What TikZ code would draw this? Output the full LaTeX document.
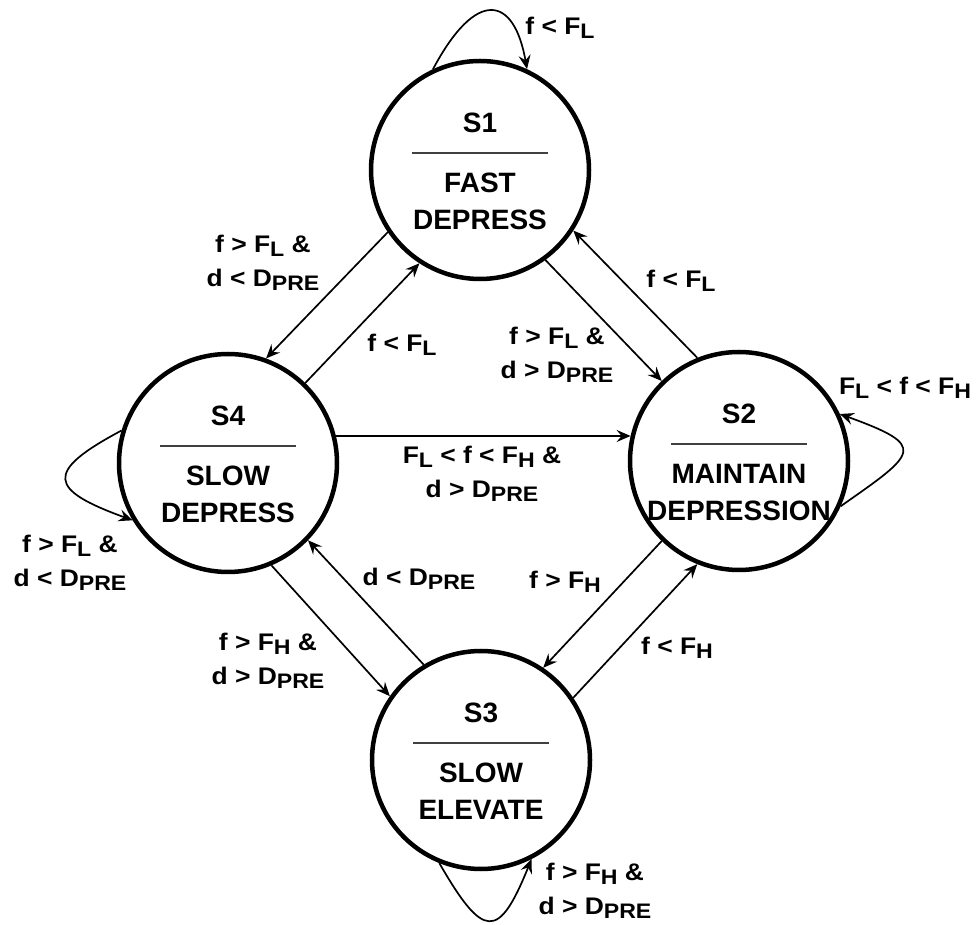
\documentclass[tikz,border=0pt]{standalone}
\usepackage{fontspec}
\setmainfont{Liberation Sans}
\newfontfamily\lblfont[FakeStretch=1.1]{Liberation Sans}
\usetikzlibrary{arrows.meta,calc}

% lowered, slightly smaller index text used in the transition conditions
\newcommand\sbs[1]{\raisebox{-4pt}{\fontsize{21}{21}\selectfont #1}}

% a state: circle, state number, divider, two-line state name
\newcommand\statebox[5]{%
  \node[stcircle] (#1) at (#2) {};
  \node[sttxt] (#1-id) at ($(#1)+(0,47)$) {#3};
  \draw[strule] ($(#1)+(-68,17)$) -- ($(#1)+(68,17)$);
  \node[sttxt] (#1-a) at ($(#1)+(0,-13)$) {#4};
  \node[sttxt] (#1-b) at ($(#1)+(0,-50)$) {#5};
}

\tikzset{
  stcircle/.style={circle, draw, line width=4.5pt, minimum size=218pt, inner sep=0pt},
  sttxt/.style={font=\bfseries\fontsize{28}{28}\selectfont, inner sep=0pt},
  strule/.style={line width=1.3pt, black!75},
  lbl/.style={font=\lblfont\bfseries\fontsize{24}{34}\selectfont, align=center, inner sep=0pt},
  trans/.style={line width=1.7pt, -{Stealth[length=14pt,width=12pt,inset=5pt]}},
}

\begin{document}
\begin{tikzpicture}[x=1pt,y=1pt]
\useasboundingbox (0,0) rectangle (977,924);

\statebox{s1}{480,754}{S1}{FAST}{DEPRESS}
\statebox{s4}{228,461}{S4}{SLOW}{DEPRESS}
\statebox{s2}{739,463}{S2}{MAINTAIN}{DEPRESSION}
\statebox{s3}{481,164}{S3}{SLOW}{ELEVATE}

% transitions between states
\draw[trans] (s1.214) -- (s4.70);
\draw[trans] (s4.46) -- (s1.237);
\draw[trans] (s1.306) -- (s2.134);
\draw[trans] (s2.112) -- (s1.327);
\draw[trans] (s2.226) -- (s3.56);
\draw[trans] (s3.34) -- (s2.248);
\draw[trans] (s4.293) -- (s3.145);
\draw[trans] (s3.121) -- (s4.316);
\draw[trans] (s4.14) -- (s2.167);

% self loops
\draw[trans] (s1.115) .. controls +(62:92) and +(100:75) .. (s1.65);
\draw[trans] (s4.163) .. controls +(208:89) and +(160:89) .. (s4.211);
\draw[trans] (s2.336) .. controls +(35:94) and +(-20:94) .. (s2.25);
\draw[trans] (s3.248) .. controls +(300:88) and +(248:88) .. (s3.297);

% conditions
\node[lbl] (l1) at (560,896) {f < F\sbs{L}};
\node[lbl] (l2) at (263,661) {f > F\sbs{L} \&\\d < D\sbs{PRE}};
\node[lbl] (l3) at (402,579) {f < F\sbs{L}};
\node[lbl] (l4) at (681,643) {f < F\sbs{L}};
\node[lbl] (l5) at (557,569) {f > F\sbs{L} \&\\d > D\sbs{PRE}};
\node[lbl] (l6) at (905,536) {F\sbs{L} < f < F\sbs{H}};
\node[lbl] (l7) at (482,450) {F\sbs{L} < f < F\sbs{H} \&\\d > D\sbs{PRE}};
\node[lbl] (l8) at (70,361) {f > F\sbs{L} \&\\d < D\sbs{PRE}};
\node[lbl] (l9) at (419,345) {d < D\sbs{PRE}};
\node[lbl] (l10) at (268,263) {f > F\sbs{H} \&\\d > D\sbs{PRE}};
\node[lbl] (l11) at (565,342) {f > F\sbs{H}};
\node[lbl] (l12) at (677,276) {f < F\sbs{H}};
\node[lbl] (l13) at (595,33) {f > F\sbs{H} \&\\d > D\sbs{PRE}};
\end{tikzpicture}
\end{document}
